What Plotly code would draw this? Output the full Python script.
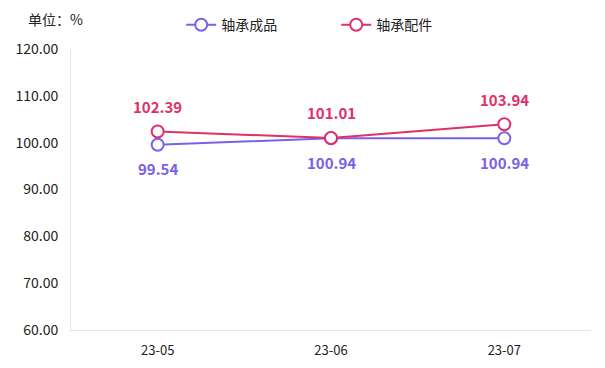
import plotly.graph_objects as go

categories = ["23-05", "23-06", "23-07"]
finished = [99.54, 100.94, 100.94]
parts = [102.39, 101.01, 103.94]
series_names = ["轴承成品", "轴承配件"]
y_ticks = [60, 70, 80, 90, 100, 110, 120]

purple = "#7b61e8"
pink = "#e0306a"
font = "Noto Sans CJK SC"

fig = go.Figure()
for name, vals, color in [(series_names[0], finished, purple), (series_names[1], parts, pink)]:
    fig.add_trace(go.Scatter(
        x=categories, y=vals, name=name, mode="lines+markers",
        line=dict(color=color, width=2),
        marker=dict(symbol="circle", size=12, color="white", line=dict(color=color, width=2)),
    ))

annotations = []
for vals, color, shift in [(finished, purple, -24), (parts, pink, 25)]:
    for c, v in zip(categories, vals):
        annotations.append(dict(
            x=c, y=v, xref="x", yref="y", text=f"<b>{v:.2f}</b>", showarrow=False,
            yshift=shift, xanchor="center", yanchor="middle",
            font=dict(color=color, size=15, family=font),
        ))
annotations.append(dict(text="单位：%", xref="paper", yref="paper", x=-0.087, y=1.108,
                        xanchor="left", yanchor="middle", showarrow=False,
                        font=dict(size=14, color="#222", family=font)))

fig.update_layout(
    width=605, height=368,
    margin=dict(l=71, r=14, t=49, b=38, autoexpand=False),
    paper_bgcolor="white", plot_bgcolor="white",
    font=dict(family=font, size=13, color="#222"),
    showlegend=True,
    legend=dict(orientation="h", x=0.51, xanchor="center", y=0.975, yanchor="top",
                yref="container", font=dict(size=14, color="#222"),
                entrywidth=110, entrywidthmode="pixels", traceorder="normal"),
    xaxis=dict(type="category", range=[-0.5, 2.5], showgrid=False,
               showline=True, linecolor="#e5e5e5", linewidth=1, ticks="",
               tickfont=dict(size=13, color="#222"), ticklabelstandoff=8),
    yaxis=dict(range=[60, 120], tickvals=y_ticks,
               ticktext=[f"{v:.2f}" for v in y_ticks], showgrid=False,
               showline=True, linecolor="#e5e5e5", linewidth=1, ticks="",
               zeroline=False, tickfont=dict(size=14, color="#222"), ticklabelstandoff=9),
    annotations=annotations,
)

fig.write_html("out.html")
